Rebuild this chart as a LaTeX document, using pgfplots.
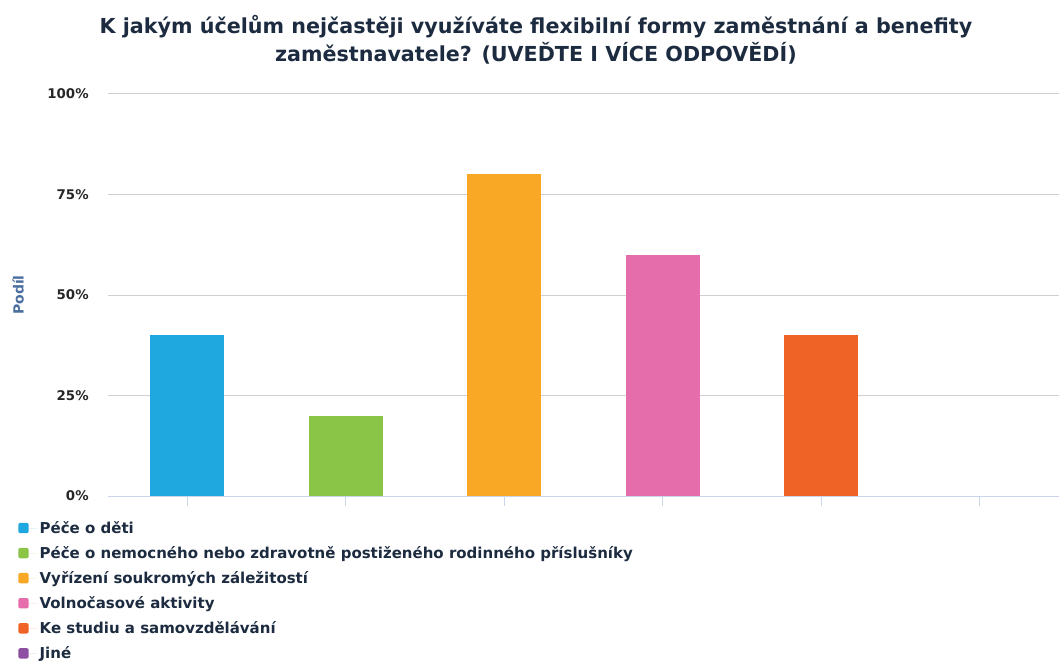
\documentclass[border=0pt]{standalone}
\usepackage{pgfplots}
\pgfplotsset{compat=1.18}
\usepackage{fontspec}
\setmainfont{DejaVu Sans}
\definecolor{cBlue}{HTML}{1FA8E0}
\definecolor{cGreen}{HTML}{8AC548}
\definecolor{cYellow}{HTML}{F9A825}
\definecolor{cPink}{HTML}{E56DAB}
\definecolor{cOrange}{HTML}{EF6426}
\definecolor{cPurple}{HTML}{8E4FA3}
\definecolor{cTitle}{HTML}{1C2B3F}
\definecolor{cLabel}{HTML}{4A6F9E}
\definecolor{cGrid}{HTML}{D0D0D0}
\definecolor{cAxis}{HTML}{CCD6EB}
\begin{document}
\begin{tikzpicture}
\useasboundingbox (0,0) rectangle (794.25pt,495.75pt);
\begin{axis}[
  at={(81pt,123.75pt)}, anchor=south west,
  scale only axis, width=713.25pt, height=301.5pt,
  xmin=-0.5, xmax=5.5, ymin=0, ymax=100,
  ybar, bar width=0.465,
  axis line style={draw=none},
  axis x line*=bottom,
  axis y line*=left,
  xtick={0,1,2,3,4,5}, xticklabels={},
  x tick style={draw=cAxis, line width=0.75pt},
  major tick length=7.5pt,
  xtick align=outside,
  ytick={0,25,50,75,100},
  yticklabels={0\%,25\%,50\%,75\%,100\%},
  y tick style={draw=none},
  yticklabel style={font=\fontsize{10}{11}\selectfont\bfseries, text=black!85, xshift=-11pt},
  ymajorgrids, grid style={draw=cGrid, line width=0.75pt},
  ylabel={Podíl},
  ylabel style={font=\fontsize{10.5}{12}\selectfont\bfseries, text=cLabel, at={(rel axis cs:-0.0945,0.5)}, anchor=center, rotate=0},
  title={K jakým účelům nejčastěji využíváte flexibilní formy zaměstnání a benefity\\zaměstnavatele? (UVEĎTE I VÍCE ODPOVĚDÍ)},
  title style={font=\fontsize{15.5}{21}\selectfont\bfseries, text=cTitle, align=center, at={(rel axis cs:0.45,1.115)}, anchor=center},
  legend cell align=left,
  legend style={draw=none, fill=none, at={(rel axis cs:-0.0946,-0.055)}, anchor=north west,
    font=\fontsize{11.25}{13}\selectfont\bfseries, text=cTitle,
    row sep=4.3pt, inner sep=0pt},
  legend image code/.code={\path (0pt,0pt) -- (14pt,0pt);\fill[#1, rounded corners=1.5pt] (0pt,-3.9pt) rectangle (7.8pt,3.9pt);},
  legend columns=1,
]
\draw[cAxis, line width=0.75pt] (axis cs:-0.5,0) -- (axis cs:5.5,0);
\addplot[fill=cBlue, draw=none, bar shift=0] coordinates {(0,40)};
\addlegendentry{Péče o děti}
\addplot[fill=cGreen, draw=none, bar shift=0] coordinates {(1,20)};
\addlegendentry{Péče o nemocného nebo zdravotně postiženého rodinného příslušníky}
\addplot[fill=cYellow, draw=none, bar shift=0] coordinates {(2,80)};
\addlegendentry{Vyřízení soukromých záležitostí}
\addplot[fill=cPink, draw=none, bar shift=0] coordinates {(3,60)};
\addlegendentry{Volnočasové aktivity}
\addplot[fill=cOrange, draw=none, bar shift=0] coordinates {(4,40)};
\addlegendentry{Ke studiu a samovzdělávání}
\addplot[fill=none, draw=none, bar shift=0, forget plot] coordinates {(5,0)};
\addlegendimage{fill=cPurple, draw=none}
\addlegendentry{Jiné}
\end{axis}
\end{tikzpicture}
\end{document}
